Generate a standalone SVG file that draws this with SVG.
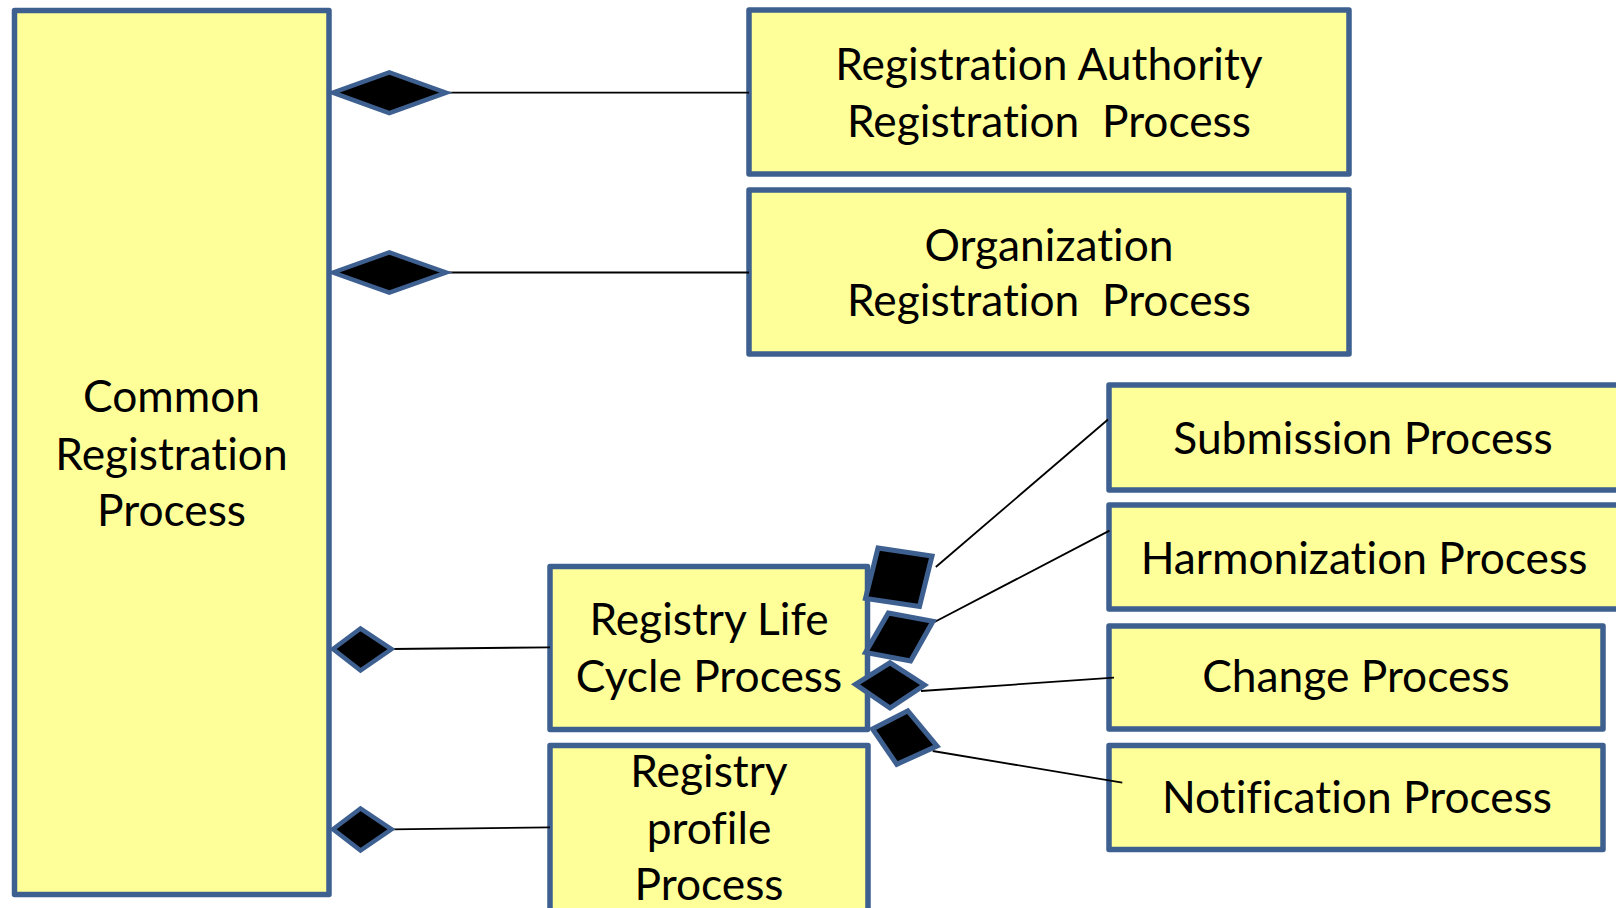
<svg xmlns="http://www.w3.org/2000/svg" width="1616" height="908" viewBox="0 0 1616 908">
  <style>
    .box { fill: #FFFF99; stroke: #3E6090; stroke-width: 5.5; stroke-linejoin: round; }
    .dia { fill: #000000; stroke: #3E6090; stroke-width: 4.5; stroke-linejoin: miter; }
    .sq { fill: #000000; stroke: #3E6090; stroke-width: 5; stroke-linejoin: miter; }
    .link { stroke: #000000; stroke-width: 1.8; fill: none; }
    .lbl { font-family: Lato, "Liberation Sans", sans-serif; font-size: 44.3px; fill: #000000; text-anchor: middle; white-space: pre; font-variant-ligatures: none; font-feature-settings: "liga" 0, "clig" 0; }
  </style>
  <rect width="1616" height="908" fill="#FFFFFF"/>

  <!-- process boxes -->
  <g id="common-registration">
    <rect class="box" x="14.5" y="10.5" width="314.5" height="884"/>
    <text class="lbl" x="171.5" y="412">Common</text>
    <text class="lbl" x="171.5" y="470">Registration</text>
    <text class="lbl" x="171.5" y="526">Process</text>
  </g>
  <g id="ra-registration">
    <rect class="box" x="749" y="10" width="600" height="164"/>
    <text class="lbl" x="1049" y="80">Registration Authority</text>
    <text class="lbl" x="1049" y="137" xml:space="preserve">Registration  Process</text>
  </g>
  <g id="org-registration">
    <rect class="box" x="749" y="190" width="600" height="164"/>
    <text class="lbl" x="1049" y="261">Organization</text>
    <text class="lbl" x="1049" y="316" xml:space="preserve">Registration  Process</text>
  </g>
  <g id="registry-life-cycle">
    <rect class="box" x="550" y="566.5" width="317.5" height="163"/>
    <text class="lbl" x="709" y="634.5">Registry Life</text>
    <text class="lbl" x="709" y="691.5">Cycle Process</text>
  </g>
  <g id="registry-profile">
    <rect class="box" x="550" y="745.5" width="318" height="175"/>
    <text class="lbl" x="709" y="786.5">Registry</text>
    <text class="lbl" x="709" y="843.5">profile</text>
    <text class="lbl" x="709" y="900">Process</text>
  </g>
  <g id="submission">
    <rect class="box" x="1109" y="385" width="520" height="105"/>
    <text class="lbl" x="1363" y="454">Submission Process</text>
  </g>
  <g id="harmonization">
    <rect class="box" x="1109" y="505" width="520" height="104"/>
    <text class="lbl" x="1364" y="574">Harmonization Process</text>
  </g>
  <g id="change">
    <rect class="box" x="1109" y="626" width="494" height="103"/>
    <text class="lbl" x="1356" y="692">Change Process</text>
  </g>
  <g id="notification">
    <rect class="box" x="1109" y="745.5" width="494" height="104"/>
    <text class="lbl" x="1357" y="812.5">Notification Process</text>
  </g>

  <!-- composition links with their filled diamonds -->
  <g id="connectors">
    <line class="link" x1="446" y1="92.7" x2="749" y2="92.7"/>
    <line class="link" x1="446" y1="272.5" x2="749" y2="272.5"/>
    <line class="link" x1="392" y1="649" x2="550" y2="647.3"/>
    <line class="link" x1="392" y1="829.3" x2="550" y2="827.3"/>
    <line class="link" x1="935.8" y1="567" x2="1108" y2="419.5"/>
    <line class="link" x1="934.5" y1="622" x2="1109.5" y2="530.6"/>
    <line class="link" x1="921" y1="691" x2="1114" y2="677.7"/>
    <line class="link" x1="932.7" y1="751" x2="1122.3" y2="782.7"/>

    <polygon class="dia" points="333,92.7 389.3,72.5 446,92.7 389.3,113"/>
    <polygon class="dia" points="333,272.5 389.3,252.5 446,272.5 389.3,292.5"/>
    <polygon class="dia" points="333,649 360.5,628.5 391.5,649 360.5,670.5"/>
    <polygon class="dia" points="333,829.3 360.5,808.5 391.5,829.3 360.5,850.5"/>

    <polygon class="sq" points="878,548 932,556 919.5,606.5 865.5,598.5"/>
    <polygon class="sq" points="888.3,613 933,621.3 910.6,661 865.5,652.5"/>
    <polygon class="sq" points="855.5,684.4 890,662.8 924.5,685 890,708"/>
    <polygon class="sq" points="872.5,729 907.8,710.8 937,746 896.8,764.3"/>
  </g>
</svg>
